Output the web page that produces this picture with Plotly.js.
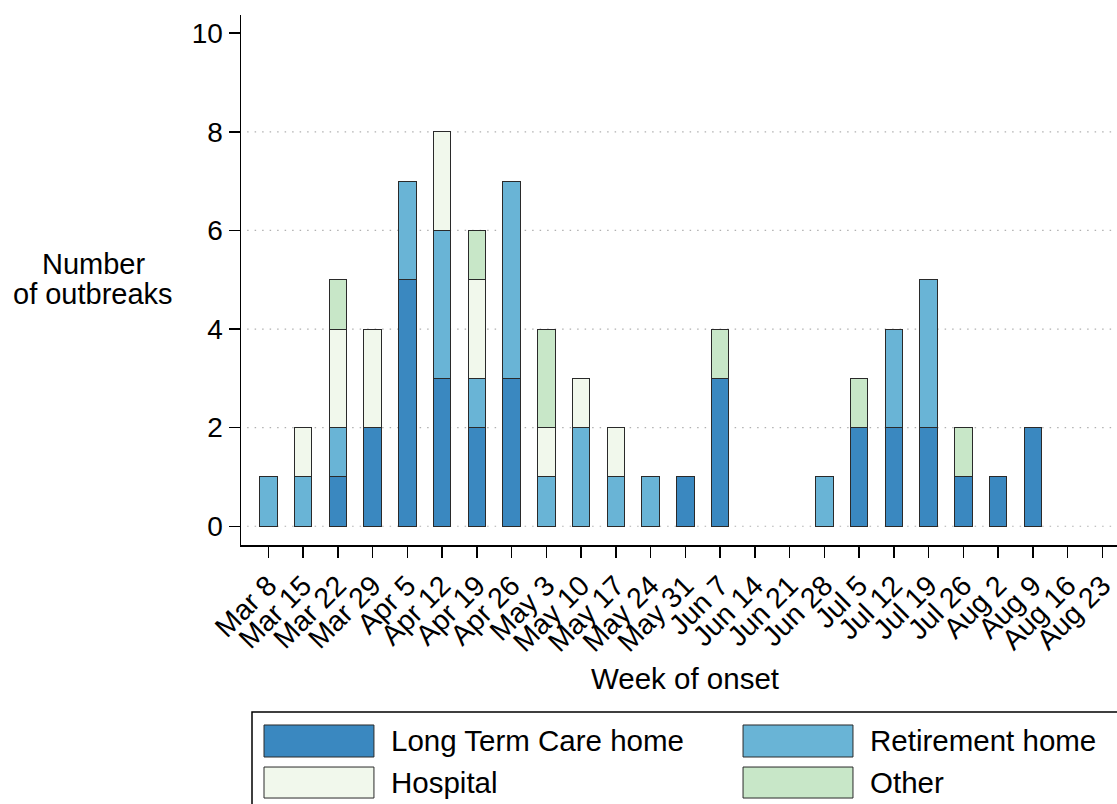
<!DOCTYPE html>
<html>
<head>
<meta charset="utf-8">
<script src="https://cdn.plot.ly/plotly-3.0.1.min.js"></script>
<style>html,body{margin:0;padding:0;background:#fff;}#chart{width:1117px;height:804px;}</style>
</head>
<body>
<div id="chart"></div>
<script>
const weeks = ["Mar 8","Mar 15","Mar 22","Mar 29","Apr 5","Apr 12","Apr 19","Apr 26","May 3","May 10","May 17","May 24","May 31","Jun 7","Jun 14","Jun 21","Jun 28","Jul 5","Jul 12","Jul 19","Jul 26","Aug 2","Aug 9","Aug 16","Aug 23"];
const longTermCare = [0,0,1,2,5,3,2,3,0,0,0,0,1,3,0,0,0,2,2,2,1,1,2,0,0];
const retirement   = [1,1,1,0,2,3,1,4,1,2,1,1,0,0,0,0,1,0,2,3,0,0,0,0,0];
const hospital     = [0,1,2,2,0,2,2,0,1,1,1,0,0,0,0,0,0,0,0,0,0,0,0,0,0];
const other        = [0,0,1,0,0,0,1,0,2,0,0,0,0,1,0,0,0,1,0,0,1,0,0,0,0];
const seriesNames  = ["Long Term Care home","Retirement home","Hospital","Other"];
const yTicks = [0,2,4,6,8,10];
const gridVals = [0,2,4,6,8];

const colors = ["#3a88c0","#69b4d6","#f1f8ec","#c8e7c8"];
const font = "Liberation Sans, Arial, Helvetica, sans-serif";
const series = [longTermCare, retirement, hospital, other];

const traces = series.map((vals, i) => ({
  type: "bar",
  name: seriesNames[i],
  x: weeks,
  y: vals.map(v => v === 0 ? null : v),
  width: 0.5,
  marker: {color: colors[i], line: {color: "#2a2a2a", width: 1}},
  showlegend: false,
  hoverinfo: "x+y+name"
}));

const shapes = gridVals.map(v => ({
  type: "line", xref: "paper", yref: "y", x0: 0.007, x1: 1, y0: v, y1: v,
  line: {color: "#b0b0b0", width: 1.2, dash: "1.5px,6px"}, layer: "below"
}));

// custom legend (paper coordinates)
const legBox = {x0: 0.01256, x1: 1.02, y0: -0.62, y1: -0.3151};
shapes.push({type: "rect", xref: "paper", yref: "paper", x0: legBox.x0, x1: legBox.x1, y0: legBox.y0, y1: legBox.y1,
  line: {color: "#000", width: 1.5}, fillcolor: "rgba(0,0,0,0)"});
const legCols = [0.02626, 0.5731];
const swW = 0.1255;
const legRows = [{y0: -0.4, y1: -0.3396, yc: -0.3698}, {y0: -0.4774, y1: -0.4189, yc: -0.449}];
const legPos = [[0,0],[1,0],[0,1],[1,1]];
const annotations = [];
seriesNames.forEach((nm, i) => {
  const [c, r] = legPos[i];
  shapes.push({type: "rect", xref: "paper", yref: "paper",
    x0: legCols[c], x1: legCols[c] + swW, y0: legRows[r].y0, y1: legRows[r].y1,
    line: {color: "#2a2a2a", width: 1}, fillcolor: colors[i]});
  annotations.push({xref: "paper", yref: "paper", x: legCols[c] + swW + 0.0175, y: legRows[r].yc,
    xanchor: "left", yanchor: "middle", showarrow: false, text: nm,
    font: {family: font, size: 29.5, color: "#000"}});
});
// y-axis title (horizontal, two lines)
annotations.push({xref: "paper", yref: "paper", x: -0.1684, y: 0.5302, xanchor: "center", yanchor: "middle",
  showarrow: false, text: "Number", font: {family: font, size: 29, color: "#000"}});
annotations.push({xref: "paper", yref: "paper", x: -0.1684, y: 0.4736, xanchor: "center", yanchor: "middle",
  showarrow: false, text: "of outbreaks", font: {family: font, size: 29, color: "#000"}});
// x-axis title
annotations.push({xref: "paper", yref: "paper", x: 0.5068, y: -0.2528, xanchor: "center", yanchor: "middle",
  showarrow: false, text: "Week of onset", font: {family: font, size: 29.5, color: "#000"}});

const layout = {
  width: 1117, height: 804,
  margin: {l: 241, r: 0, t: 15, b: 259, pad: 0},
  paper_bgcolor: "#fff", plot_bgcolor: "#fff",
  barmode: "stack",
  font: {family: font, size: 28, color: "#000"},
  xaxis: {
    type: "category", range: [-0.786, 24.42], tickvals: weeks, ticktext: weeks,
    tickangle: -45, ticks: "outside", ticklen: 11, tickwidth: 1.5, tickcolor: "#000",
    showline: true, linecolor: "#000", linewidth: 1.5, showgrid: false, zeroline: false,
    tickfont: {family: font, size: 28.5, color: "#000"},
    automargin: false
  },
  yaxis: {
    range: [-0.38, 10.37], tickvals: yTicks, ticks: "outside", ticklen: 11, tickwidth: 1.5, tickcolor: "#000",
    showline: true, linecolor: "#000", linewidth: 1.5, showgrid: false, zeroline: false,
    tickfont: {family: font, size: 28, color: "#000"}, automargin: false
  },
  shapes: shapes,
  annotations: annotations,
  showlegend: false
};

Plotly.newPlot("chart", traces, layout, {displayModeBar: false, staticPlot: true});
</script>
</body>
</html>
